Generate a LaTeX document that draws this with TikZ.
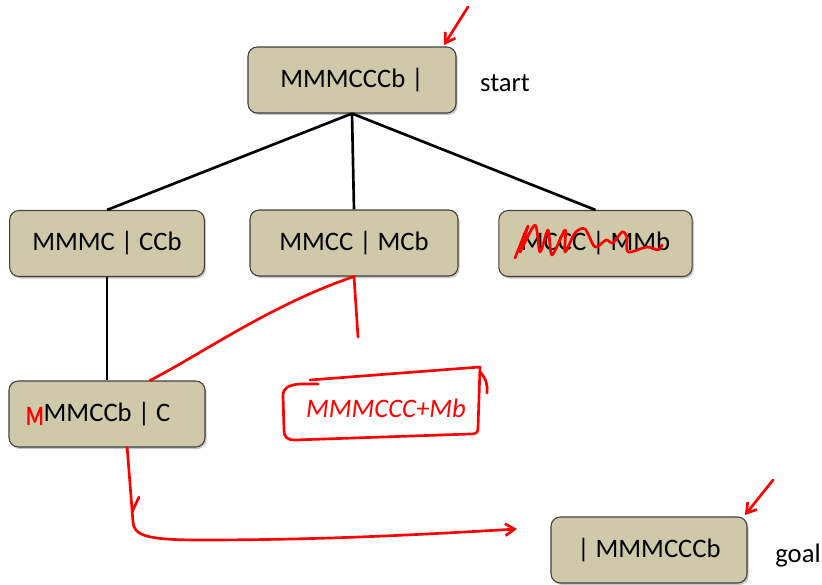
\documentclass[tikz,border=0pt]{standalone}
\usepackage{fontspec}
\setmainfont{Carlito}
\usetikzlibrary{shadows,arrows.meta}
\definecolor{boxfill}{RGB}{207,201,169}
\definecolor{boxedge}{RGB}{64,64,64}
\tikzset{
  box/.style={draw=boxedge,line width=0.8pt,fill=boxfill,rounded corners=7pt,
    minimum height=49.5pt,inner sep=0pt,font=\fontsize{20}{24}\selectfont,
    drop shadow={shadow xshift=1.2pt,shadow yshift=-1.5pt,opacity=0.45}},
  lbl/.style={font=\fontsize{20}{24}\selectfont},
  link/.style={line width=2pt},
  ink/.style={red,line width=2pt,line cap=round,line join=round},
  tip/.style={-{Straight Barb[length=7pt,width=9pt]}}
}
\begin{document}
\begin{tikzpicture}[x=0.75pt,y=-0.75pt]
\useasboundingbox (0,0) rectangle (822,585);
% search tree
\node[box,minimum width=156pt] (start) at (352,80) {MMMCCCb |};
\node[lbl] (startlbl) at (505,83) {start};
\node[box,minimum width=146pt] (mmmc) at (107,243.5) {MMMC | CCb};
\node[box,minimum width=156pt] (mmcc) at (354,243) {MMCC | MCb};
\node[box,minimum width=145pt] (mccc) at (595.5,243.5) {MCCC | MMb};
\node[box,minimum width=147pt] (mmccb) at (107,414) {MMCCb | C};
\node[box,minimum width=147pt] (goal) at (649,550) {| MMMCCCb};
\node[lbl] (goallbl) at (798,556) {goal};
\draw[link] (start.south) -- (mmmc.north);
\draw[link] (start.south) -- (mmcc.north);
\draw[link] (start.south) -- (mccc.north);
\draw[link] (mmmc.south) -- (mmccb.north);
% red notes
\node[red,inner sep=0pt,font=\fontsize{21}{24}\selectfont\bfseries] (redM) at (35,416) {\scalebox{0.72}[1]{M}};
\coordinate (tickA) at (468,7);
\coordinate (tickB) at (444,45);
\draw[ink,tip] (tickA) -- (tickB);
\coordinate (tickC) at (773,480);
\coordinate (tickD) at (745,515);
\draw[ink,tip] (tickC) -- (tickD);
\draw[ink] (mmccb.38) .. controls (200,355) and (270,305) .. (mmcc.south) -- (358,337);
\draw[ink] plot[smooth,tension=0.5] coordinates {(515,258) (528,226) (520,252) (535,225)
  (540,252) (548,230) (552,255) (565,230) (565,252) (575,233) (585,229) (595,247)
  (606,240) (613,243) (622,232) (627,237) (628,252) (647,247) (658,250) (662,245)};
\draw[ink] (310,380) -- (480,367) -- (478,428) .. controls (478,433) and (476,434) .. (470,434)
  -- (295,440) .. controls (287,440) and (284,437) .. (284,430) -- (283,396)
  .. controls (283,388) and (288,385) .. (300,384) -- (318,384);
\draw[ink] (480,372) .. controls (486,378) and (488,386) .. (487,393);
\node[lbl,red,font=\fontsize{20}{24}\selectfont\itshape] (scrawl) at (386,408) {MMMCCC+Mb};
\coordinate (toGoal) at (517,529);
\draw[ink,tip] (mmccb.-59) -- (133,522) .. controls (134,535) and (145,540) .. (200,540)
  .. controls (330,540) and (430,534) .. (toGoal);
\draw[ink] (132,512) -- (139,497);
\end{tikzpicture}
\end{document}
